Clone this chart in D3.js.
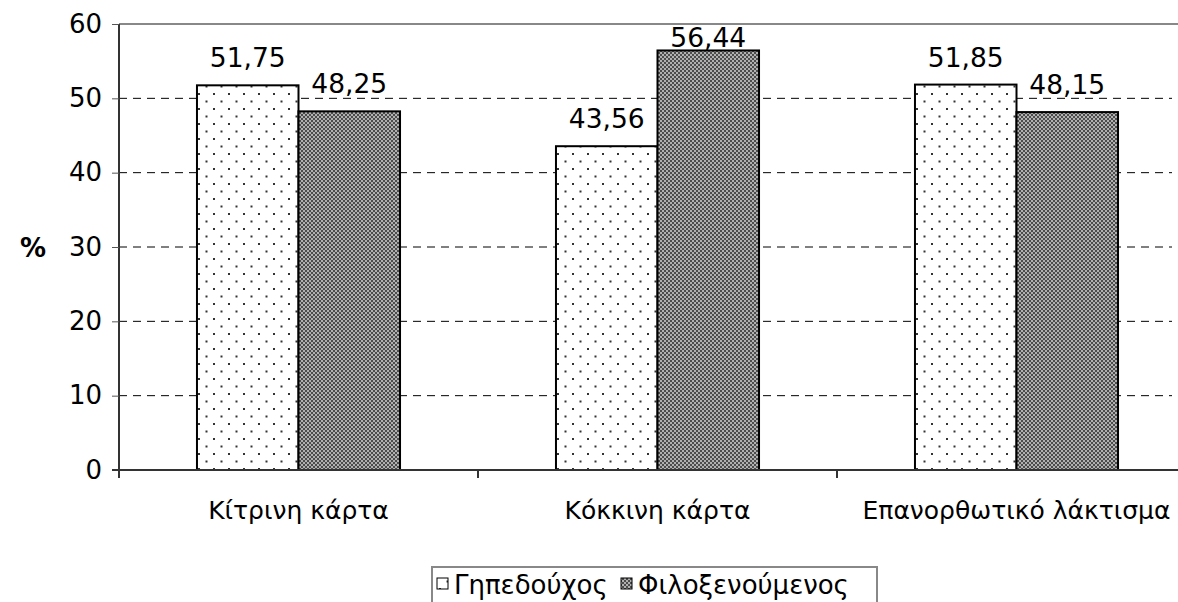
<!DOCTYPE html>
<html>
<head>
<meta charset="utf-8">
<script src="https://cdn.jsdelivr.net/npm/d3@7"></script>
<style>
  body { margin: 0; background: #fff; }
  svg { display: block; font-family: 'DejaVu Sans', Verdana, sans-serif; }
</style>
</head>
<body>
<div id="chart"></div>
<script>
var categories = ['Κίτρινη κάρτα', 'Κόκκινη κάρτα', 'Επανορθωτικό λάκτισμα']
var seriesNames = ['Γηπεδούχος', 'Φιλοξενούμενος']
var home = [51.75, 43.56, 51.85]
var away = [48.25, 56.44, 48.15]
var labelsHome = ['51,75', '43,56', '51,85']
var labelsAway = ['48,25', '56,44', '48,15']
var yTicks = [0, 10, 20, 30, 40, 50, 60]

var w = 1178
var h = 602
var fontSize = 25

var svg = d3.select('#chart')
  .append('svg')
  .attr('width', w)
  .attr('height', h)

// fill patterns
var defs = svg.append('defs')
var dots = defs.append('pattern')
  .attr('id', 'dots')
  .attr('patternUnits', 'userSpaceOnUse')
  .attr('width', 15)
  .attr('height', 15)
dots.append('rect').attr('width', 15).attr('height', 15).attr('fill', '#fff')
dots.append('rect').attr('x', 4).attr('y', 3).attr('width', 2).attr('height', 2).attr('fill', '#333')
dots.append('rect').attr('x', 11.5).attr('y', 10.5).attr('width', 2).attr('height', 2).attr('fill', '#333')

var checks = defs.append('pattern')
  .attr('id', 'checks')
  .attr('patternUnits', 'userSpaceOnUse')
  .attr('width', 4)
  .attr('height', 4)
checks.append('rect').attr('width', 4).attr('height', 4).attr('fill', '#b0b0b0')
checks.append('rect').attr('x', 0).attr('y', 0).attr('width', 2).attr('height', 2).attr('fill', '#4c4c4c')
checks.append('rect').attr('x', 2).attr('y', 2).attr('width', 2).attr('height', 2).attr('fill', '#4c4c4c')

var fills = ['url(#dots)', 'url(#checks)']

var plotLeft = 119
var plotTop = 24
var plotBottom = 470
var plotRight = 1196

var x0 = d3.scaleBand()
  .domain(categories)
  .range([plotLeft, plotRight])
  .padding(0)

var x1 = d3.scaleBand()
  .domain(seriesNames)
  .range([0, x0.bandwidth()])
  .paddingInner(0)
  .paddingOuter(0.768)

var y = d3.scaleLinear()
  .domain([0, 60])
  .range([plotBottom, plotTop])

// top border of plot area
svg.append('line')
  .attr('x1', plotLeft).attr('x2', w)
  .attr('y1', y(60)).attr('y2', y(60))
  .attr('stroke', '#888')
  .attr('stroke-width', 2)

// gridlines
svg.append('g')
  .selectAll('line')
  .data(yTicks.filter(function (d) { return d > 0 && d < 60 }))
  .enter()
  .append('line')
  .attr('x1', plotLeft).attr('x2', 1172)
  .attr('y1', function (d) { return y(d) })
  .attr('y2', function (d) { return y(d) })
  .attr('stroke', '#000')
  .attr('stroke-width', 1)
  .attr('stroke-dasharray', '8,6')

// bars
var data = categories.map(function (c, i) {
  return [
    { cat: c, s: seriesNames[0], v: home[i], label: labelsHome[i], k: 0 },
    { cat: c, s: seriesNames[1], v: away[i], label: labelsAway[i], k: 1 }
  ]
})

var groups = svg.append('g')
  .selectAll('g')
  .data(data)
  .enter()
  .append('g')
  .attr('transform', function (d) { return 'translate(' + x0(d[0].cat) + ',0)' })

groups.selectAll('rect')
  .data(function (d) { return d })
  .enter()
  .append('rect')
  .attr('x', function (d) { return x1(d.s) })
  .attr('y', function (d) { return y(d.v) })
  .attr('width', x1.bandwidth())
  .attr('height', function (d) { return y(0) - y(d.v) })
  .attr('fill', function (d) { return fills[d.k] })
  .attr('stroke', '#000')
  .attr('stroke-width', 2)

// labels kept inside the plot area, like the spreadsheet does
groups.selectAll('text')
  .data(function (d) { return d })
  .enter()
  .append('text')
  .attr('x', function (d) { return x1(d.s) + x1.bandwidth() / 2 })
  .attr('y', function (d) { return Math.max(y(d.v) - 18, plotTop + 23) })
  .attr('text-anchor', 'middle')
  .attr('font-size', 26.5)
  .text(function (d) { return d.label })

// y axis
var yAxis = d3.axisLeft(y)
  .tickValues(yTicks)
  .tickSize(7)
  .tickPadding(10)
var gy = svg.append('g')
  .attr('transform', 'translate(' + plotLeft + ',0)')
  .call(yAxis)
gy.select('.domain')
  .attr('d', 'M0,' + plotTop + 'V' + (plotBottom + 8))
  .attr('stroke', '#333')
  .attr('stroke-width', 2)
gy.selectAll('.tick line').attr('stroke', '#555')
gy.selectAll('.tick text')
  .attr('font-size', 26)
  .attr('font-family', "'DejaVu Sans', Verdana, sans-serif")
  .attr('fill', '#000')

// x axis
var xAxis = d3.axisBottom(x0).tickSize(0).tickPadding(31)
var gx = svg.append('g')
  .attr('transform', 'translate(0,' + plotBottom + ')')
  .call(xAxis)
gx.select('.domain')
  .attr('d', 'M' + (plotLeft - 7) + ',0H' + w)
  .attr('stroke', '#333')
  .attr('stroke-width', 2)
gx.selectAll('.tick text')
  .attr('font-size', fontSize)
  .attr('font-family', "'DejaVu Sans', Verdana, sans-serif")
  .attr('fill', '#000')
  .attr('dy', '0.71em')

// category separator ticks
svg.append('g')
  .selectAll('line')
  .data(categories.slice(1))
  .enter()
  .append('line')
  .attr('x1', function (d) { return x0(d) })
  .attr('x2', function (d) { return x0(d) })
  .attr('y1', plotBottom)
  .attr('y2', plotBottom + 8)
  .attr('stroke', '#333')
  .attr('stroke-width', 2)

// y label
svg.append('text')
  .attr('x', 33)
  .attr('y', y(30) + 10)
  .attr('text-anchor', 'middle')
  .attr('font-size', 26)
  .attr('font-weight', 'bold')
  .text('%')

// legend
var leg = svg.append('g')
leg.append('rect')
  .attr('x', 432).attr('y', 567)
  .attr('width', 445).attr('height', 50)
  .attr('fill', '#fff')
  .attr('stroke', '#888')
  .attr('stroke-width', 2)

var legX = [437, 621]
seriesNames.forEach(function (s, i) {
  leg.append('rect')
    .attr('x', legX[i]).attr('y', 578)
    .attr('width', 11).attr('height', 11)
    .attr('fill', fills[i])
    .attr('stroke', '#000')
    .attr('stroke-width', 1)
  leg.append('text')
    .attr('x', legX[i] + 17)
    .attr('y', 594)
    .attr('font-size', 26)
    .text(s)
})
</script>
</body>
</html>
